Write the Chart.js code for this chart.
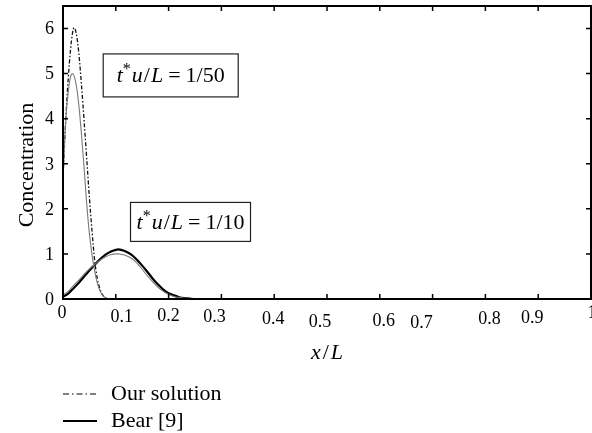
<!DOCTYPE html>
<html>
<head>
<meta charset="utf-8">
<script src="https://cdn.jsdelivr.net/npm/chart.js@4.4.1/dist/chart.umd.min.js"></script>
<style>
  html, body { margin: 0; padding: 0; background: #fff; }
  #wrap { width: 592px; height: 433px; }
</style>
</head>
<body>
<div id="wrap"><canvas id="grafico" width="592" height="433"></canvas></div>
<script>
// t*u/L = 1/50 curves
const xFast    = [0, 0.003, 0.006, 0.01, 0.014, 0.018, 0.021, 0.025, 0.03, 0.035, 0.04, 0.045, 0.05, 0.055, 0.06, 0.065, 0.07, 0.075, 0.08, 0.085, 0.09, 0.1, 0.15, 0.2, 0.3, 0.4, 0.5, 0.6, 0.7, 0.8, 0.9, 1];
const oursFast = [2.7, 3.45, 4.15, 4.9, 5.5, 5.9, 6.02, 5.9, 5.45, 4.75, 3.95, 3.1, 2.25, 1.5, 0.85, 0.45, 0.22, 0.09, 0.03, 0.01, 0, 0, 0, 0, 0, 0, 0, 0, 0, 0, 0, 0];
const bearFast = [2.6, 3.5, 4.1, 4.6, 4.92, 5.0, 4.95, 4.75, 4.3, 3.65, 2.9, 2.1, 1.45, 0.98, 0.62, 0.35, 0.18, 0.08, 0.03, 0.01, 0, 0, 0, 0, 0, 0, 0, 0, 0, 0, 0, 0];

// t*u/L = 1/10 curves
const xSlow    = [0, 0.01, 0.02, 0.03, 0.04, 0.05, 0.06, 0.07, 0.08, 0.09, 0.1, 0.105, 0.11, 0.12, 0.13, 0.14, 0.15, 0.16, 0.17, 0.18, 0.19, 0.2, 0.21, 0.22, 0.23, 0.24, 0.25, 0.3, 0.4, 0.5, 0.6, 0.7, 0.8, 0.9, 1];
const oursSlow = [0.05, 0.12, 0.24, 0.36, 0.5, 0.63, 0.76, 0.88, 0.98, 1.05, 1.09, 1.1, 1.09, 1.05, 0.98, 0.87, 0.74, 0.6, 0.45, 0.32, 0.21, 0.13, 0.08, 0.04, 0.02, 0.01, 0, 0, 0, 0, 0, 0, 0, 0, 0];
const bearSlow = [0.09, 0.17, 0.3, 0.42, 0.55, 0.67, 0.77, 0.86, 0.93, 0.98, 1.0, 1.0, 0.99, 0.96, 0.9, 0.8, 0.66, 0.51, 0.38, 0.26, 0.17, 0.1, 0.055, 0.03, 0.015, 0.005, 0, 0, 0, 0, 0, 0, 0, 0, 0];

const xTicks      = [0, 0.1, 0.2, 0.3, 0.4, 0.5, 0.6, 0.7, 0.8, 0.9, 1];
const xTickLabels = ['0', '0.1', '0.2', '0.3', '0.4', '0.5', '0.6', '0.7', '0.8', '0.9', '1'];
const yTicks      = [0, 1, 2, 3, 4, 5, 6];
const yTickLabels = ['0', '1', '2', '3', '4', '5', '6'];
const seriesNames = ['Our solution', 'Bear [9]'];
const boxLabels   = ['1/50', '1/10'];

// the labels in the original figure sit a bit unevenly under the axis
const xLabelNudge = [[-1, 14], [6, 18], [0, 17], [-7, 18], [-1, 20], [-7, 23], [4, 22], [-11, 24], [4, 20], [-6, 19], [1, 14]];

const SERIF = '"Liberation Serif", "DejaVu Serif", serif';
const toPts = (xs, ys) => xs.map((x, i) => ({ x, y: ys[i] }));

function mathParts(rhs) {
    return [
        { t: 't', it: true }, { t: '*', sup: true, gap: 1 }, { t: 'u', it: true, gap: 1 }, { t: '/', gap: 1 },
        { t: 'L', it: true, gap: 5 }, { t: '=', gap: 5 }, { t: rhs }
    ];
}

function drawMath(ctx, parts, cx, cy, size) {
    const fontOf = p => (p.it ? 'italic ' : '') + (p.sup ? Math.round(size * 0.72) : size) + 'px ' + SERIF;
    const widths = parts.map(p => { ctx.font = fontOf(p); return ctx.measureText(p.t).width + (p.gap || 0); });
    const total = widths.reduce((a, b) => a + b, 0);
    let x = cx - total / 2;
    ctx.textAlign = 'left';
    ctx.textBaseline = 'middle';
    parts.forEach((p, i) => {
        ctx.font = fontOf(p);
        ctx.fillText(p.t, x, p.sup ? cy - size * 0.28 : cy);
        x += widths[i];
    });
    return total;
}

const framePlugin = {
    id: 'frame',
    afterDraw(chart) {
        const { ctx, chartArea: a, scales: { x, y } } = chart;
        ctx.save();
        ctx.strokeStyle = '#000';
        ctx.fillStyle = '#000';

        // box round the plot
        ctx.lineWidth = 2;
        ctx.strokeRect(a.left, a.top, a.right - a.left, a.bottom - a.top);

        // inward ticks on all four sides
        ctx.lineWidth = 1.5;
        ctx.beginPath();
        xTicks.forEach(v => {
            const px = x.getPixelForValue(v);
            ctx.moveTo(px, a.bottom); ctx.lineTo(px, a.bottom - 5);
            ctx.moveTo(px, a.top); ctx.lineTo(px, a.top + 5);
        });
        yTicks.forEach(v => {
            const py = y.getPixelForValue(v);
            ctx.moveTo(a.left, py); ctx.lineTo(a.left + 5, py);
            ctx.moveTo(a.right, py); ctx.lineTo(a.right - 5, py);
        });
        ctx.stroke();

        // tick labels
        ctx.font = '18px ' + SERIF;
        ctx.textAlign = 'center';
        ctx.textBaseline = 'middle';
        xTicks.forEach((v, i) => {
            const [dx, dy] = xLabelNudge[i];
            ctx.fillText(xTickLabels[i], x.getPixelForValue(v) + dx, a.bottom + dy);
        });
        ctx.textAlign = 'right';
        yTicks.forEach((v, i) => ctx.fillText(yTickLabels[i], a.left - 9, y.getPixelForValue(v) + 1));

        // axis titles
        ctx.save();
        ctx.translate(27, 165);
        ctx.rotate(-Math.PI / 2);
        ctx.font = '22px ' + SERIF;
        ctx.textAlign = 'center';
        ctx.fillText('Concentration', 0, 0);
        ctx.restore();
        drawMath(ctx, [{ t: 'x', it: true, gap: 2 }, { t: '/', gap: 2 }, { t: 'L', it: true }], (a.left + a.right) / 2, 353, 22);

        // boxed labels
        const boxes = [
            { cx: x.getPixelForValue(0.204), cy: y.getPixelForValue(4.96), w: 135, h: 43 },
            { cx: x.getPixelForValue(0.2415), cy: y.getPixelForValue(1.71), w: 120, h: 39 }
        ];
        boxes.forEach((b, i) => {
            ctx.fillStyle = '#fff';
            ctx.fillRect(b.cx - b.w / 2, b.cy - b.h / 2, b.w, b.h);
            ctx.strokeStyle = '#222';
            ctx.lineWidth = 1.2;
            ctx.strokeRect(b.cx - b.w / 2, b.cy - b.h / 2, b.w, b.h);
            ctx.fillStyle = '#000';
            drawMath(ctx, mathParts(boxLabels[i]), b.cx, b.cy + 1, 22);
        });

        // legend under the axis
        const styles = [chart.data.datasets[3], chart.data.datasets[2]];
        styles.forEach((ds, i) => {
            const ly = 394 + i * 27;
            ctx.strokeStyle = '#000';
            ctx.lineWidth = i === 0 ? 1.2 : 2;
            ctx.setLineDash(i === 0 ? [6, 3, 1.5, 3] : []);
            ctx.beginPath();
            ctx.moveTo(a.left, ly); ctx.lineTo(a.left + 34, ly);
            ctx.stroke();
            ctx.setLineDash([]);
            ctx.font = '22px ' + SERIF;
            ctx.textAlign = 'left';
            ctx.textBaseline = 'middle';
            ctx.fillText(seriesNames[i], a.left + 48, ly);
        });
        ctx.restore();
    }
};

const ctx = document.getElementById('grafico').getContext('2d');
new Chart(ctx, {
    type: 'line',
    data: {
        datasets: [
            { label: 'Bear 1/50', data: toPts(xFast, bearFast), borderColor: '#7a7a7a', borderWidth: 1.1 },
            { label: 'Bear 1/10', data: toPts(xSlow, bearSlow), borderColor: '#7a7a7a', borderWidth: 1.1 },
            { label: 'Our 1/10', data: toPts(xSlow, oursSlow), borderColor: '#000', borderWidth: 2.2 },
            { label: 'Our 1/50', data: toPts(xFast, oursFast), borderColor: '#111', borderWidth: 1.3, borderDash: [4, 2, 1.5, 2] }
        ]
    },
    options: {
        responsive: false,
        animation: false,
        cubicInterpolationMode: 'monotone',
        elements: { point: { radius: 0 } },
        layout: { padding: { left: 63, right: 1, top: 6, bottom: 134 } },
        scales: {
            x: { type: 'linear', min: 0, max: 1, display: false },
            y: { min: 0, max: 6.5, display: false }
        },
        plugins: { legend: { display: false }, tooltip: { enabled: false } }
    },
    plugins: [framePlugin]
});
</script>
</body>
</html>
